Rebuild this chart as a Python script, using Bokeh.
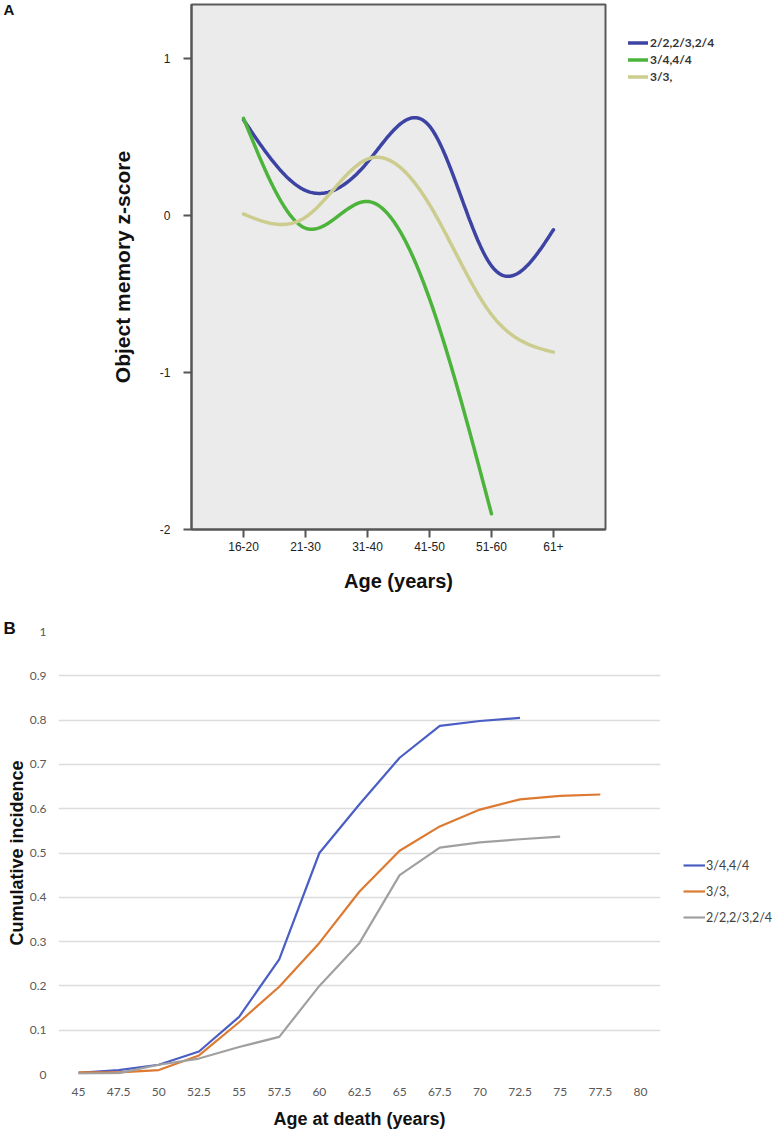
import numpy as np
from bokeh.plotting import figure
from bokeh.models import Range1d, FixedTicker, Legend, LegendItem, Title, ColumnDataSource
from bokeh.embed import file_html
from bokeh.resources import INLINE

# ---------------- Data: panel A (object memory z-score by age group) ----------------
AGE_GROUPS = ["16-20", "21-30", "31-40", "41-50", "51-60", "61+"]
A_Y_TICKS = [-2, -1, 0, 1]
A_Y_LABELS = ["-2", "-1", "0", "1"]
A_NAMES = ["2/2,2/3,2/4", "3/4,4/4", "3/3,"]
A_E2 = [0.61, 0.16, 0.34, 0.57, -0.32, -0.09]       # 2/2,2/3,2/4
A_E4 = [0.62, -0.08, 0.09, -0.53, -1.90]            # 3/4,4/4
A_E3 = [0.01, -0.01, 0.36, 0.07, -0.63, -0.87]      # 3/3,

# ---------------- Data: panel B (cumulative incidence by age at death) ----------------
B_AGES = [45, 47.5, 50, 52.5, 55, 57.5, 60, 62.5, 65, 67.5, 70, 72.5, 75, 77.5, 80]
B_AGE_LABELS = ["45", "47.5", "50", "52.5", "55", "57.5", "60", "62.5", "65",
                "67.5", "70", "72.5", "75", "77.5", "80"]
B_Y_TICKS = [0, 0.1, 0.2, 0.3, 0.4, 0.5, 0.6, 0.7, 0.8, 0.9, 1.0]
B_Y_LABELS = ["0", "0.1", "0.2", "0.3", "0.4", "0.5", "0.6", "0.7", "0.8", "0.9", "1"]
B_NAMES = ["3/4,4/4", "3/3,", "2/2,2/3,2/4"]
B_E4 = [0.004, 0.010, 0.022, 0.052, 0.130, 0.260, 0.500, 0.610, 0.715, 0.787, 0.798, 0.805]
B_E3 = [0.005, 0.005, 0.010, 0.043, 0.118, 0.198, 0.297, 0.413, 0.505, 0.560, 0.598, 0.621, 0.629, 0.632]
B_E2 = [0.002, 0.003, 0.022, 0.036, 0.062, 0.085, 0.200, 0.297, 0.450, 0.512, 0.524, 0.531, 0.537]


def natural_spline(ys, n=300):
    """Render a smooth natural cubic spline through the points (0..k-1, ys)."""
    ys = np.asarray(ys, dtype=float)
    k = len(ys)
    A = np.zeros((k, k))
    r = np.zeros(k)
    A[0, 0] = 1.0
    A[-1, -1] = 1.0
    for i in range(1, k - 1):
        A[i, i - 1] = 1.0
        A[i, i] = 4.0
        A[i, i + 1] = 1.0
        r[i] = 6.0 * (ys[i + 1] - 2 * ys[i] + ys[i - 1])
    M = np.linalg.solve(A, r)
    t = np.linspace(0, k - 1, n)
    out = np.empty_like(t)
    for j, x in enumerate(t):
        i = min(int(np.floor(x)), k - 2)
        a = x - i
        b = 1 - a
        out[j] = (b * ys[i] + a * ys[i + 1]
                  + ((b ** 3 - b) * M[i] + (a ** 3 - a) * M[i + 1]) / 6.0)
    return t, out


# ======================= Panel A =======================
FH_A = 525
pa = figure(frame_width=414, frame_height=FH_A, output_backend="svg", toolbar_location=None,
            x_range=Range1d(-0.84, 5.84), y_range=Range1d(-2, 1.345),
            min_border_left=191, min_border_right=165, min_border_top=4, min_border_bottom=74)
pa.background_fill_color = "#ebebeb"
pa.border_fill_color = "white"
pa.outline_line_color = "#5a5a5a"
pa.outline_line_width = 2
pa.xgrid.visible = False
pa.ygrid.visible = False

colors_a = ["#3c43a3", "#4cb33b", "#cccc8e"]
renderers_a = []
for ys, c in zip([A_E2, A_E4, A_E3], colors_a):
    t, s = natural_spline(ys)
    r = pa.line(t, s, line_color=c, line_width=3.5, line_cap="round")
    renderers_a.append(r)

for ax in (pa.xaxis[0], pa.yaxis[0]):
    ax.axis_line_color = "#555555"
    ax.axis_line_width = 2
    ax.major_tick_line_color = "#555555"
    ax.major_tick_line_width = 2
    ax.major_tick_out = 8
    ax.major_tick_in = 0
    ax.minor_tick_line_color = None
    ax.major_label_text_font = "Liberation Sans"
    ax.major_label_text_font_size = "12px"
    ax.major_label_text_color = "#222222"
    ax.axis_label_text_font = "Liberation Sans"
    ax.axis_label_text_font_style = "bold"
    ax.axis_label_text_color = "#111111"

pa.xaxis.ticker = FixedTicker(ticks=list(range(len(AGE_GROUPS))))
pa.xaxis.major_label_overrides = {i: lab for i, lab in enumerate(AGE_GROUPS)}
pa.xaxis.major_label_standoff = 4
pa.xaxis.axis_label = "Age (years)"
pa.xaxis.axis_label_text_font_size = "20px"
pa.xaxis.axis_label_standoff = 16

pa.yaxis.ticker = FixedTicker(ticks=A_Y_TICKS)
pa.yaxis.major_label_overrides = {t: lab for t, lab in zip(A_Y_TICKS, A_Y_LABELS)}
pa.yaxis.major_label_standoff = 13
pa.yaxis.axis_label = "Object memory z-score"
pa.yaxis.axis_label_text_font_size = "21px"
pa.yaxis.axis_label_standoff = 23

leg_a = Legend(items=[LegendItem(label=n, renderers=[r]) for n, r in zip(A_NAMES, renderers_a)],
               location=(23, FH_A - 30 - 51), orientation="vertical")
leg_a.glyph_width = 20
leg_a.glyph_height = 17
leg_a.label_height = 17
leg_a.label_standoff = 2
leg_a.spacing = 0
leg_a.padding = 0
leg_a.margin = 0
leg_a.border_line_color = None
leg_a.background_fill_alpha = 0
leg_a.label_text_font = "Lato"
leg_a.label_text_font_style = "bold"
leg_a.label_text_font_size = "12px"
leg_a.label_text_color = "#333333"
pa.add_layout(leg_a, "right")

pa.add_layout(Title(text="A", align="left", offset=-188, standoff=-26,
                    text_font="Liberation Sans", text_font_style="bold",
                    text_font_size="15px", text_color="#111111"), "above")

# ======================= Panel B =======================
FH_B = 443
pb = figure(frame_width=602, frame_height=FH_B, output_backend="svg", toolbar_location=None,
            x_range=Range1d(43.75, 81.25), y_range=Range1d(0, 1),
            min_border_left=58, min_border_right=110, min_border_top=28, min_border_bottom=53)
pb.background_fill_color = "white"
pb.border_fill_color = "white"
pb.outline_line_color = None
pb.xgrid.visible = False
pb.ygrid.grid_line_color = "#dcdcdc"
pb.ygrid.grid_line_width = 1.5
pb.ygrid.ticker = FixedTicker(ticks=B_Y_TICKS)

colors_b = ["#4a5ec4", "#dd7a31", "#a0a0a0"]
renderers_b = []
for ys, c in zip([B_E4, B_E3, B_E2], colors_b):
    src = ColumnDataSource(dict(x=B_AGES[:len(ys)], y=ys))
    r = pb.line("x", "y", source=src, line_color=c, line_width=2.2, line_join="round")
    renderers_b.append(r)

for ax in (pb.xaxis[0], pb.yaxis[0]):
    ax.axis_line_color = None
    ax.major_tick_line_color = None
    ax.minor_tick_line_color = None
    ax.major_tick_out = 0
    ax.major_tick_in = 0
    ax.minor_tick_out = 0
    ax.minor_tick_in = 0
    ax.major_label_text_font = "Lato"
    ax.major_label_text_font_size = "12px"
    ax.major_label_text_color = "#595959"
    ax.axis_label_text_font = "Liberation Sans"
    ax.axis_label_text_font_style = "bold"
    ax.axis_label_text_font_size = "18px"
    ax.axis_label_text_color = "#111111"

pb.xaxis.ticker = FixedTicker(ticks=B_AGES)
pb.xaxis.major_label_overrides = {a: lab for a, lab in zip(B_AGES, B_AGE_LABELS)}
pb.xaxis.major_label_standoff = 13
pb.xaxis.axis_label = "Age at death (years)"
pb.xaxis.axis_label_standoff = 10

pb.yaxis.ticker = FixedTicker(ticks=B_Y_TICKS)
pb.yaxis.major_label_overrides = {t: lab for t, lab in zip(B_Y_TICKS, B_Y_LABELS)}
pb.yaxis.major_label_standoff = 12
pb.yaxis.axis_label = "Cumulative incidence"
pb.yaxis.axis_label_standoff = 0

leg_b = Legend(items=[LegendItem(label=n, renderers=[r]) for n, r in zip(B_NAMES, renderers_b)],
               location=(23, FH_B - 221 - 78), orientation="vertical")
leg_b.glyph_width = 22
leg_b.glyph_height = 26
leg_b.label_height = 26
leg_b.label_standoff = 1
leg_b.spacing = 0
leg_b.padding = 0
leg_b.margin = 0
leg_b.border_line_color = None
leg_b.background_fill_alpha = 0
leg_b.label_text_font = "Lato"
leg_b.label_text_font_size = "12.5px"
leg_b.label_text_color = "#404040"
pb.add_layout(leg_b, "right")

pb.add_layout(Title(text="B", align="left", offset=-55, standoff=-12,
                    text_font="Liberation Sans", text_font_style="bold",
                    text_font_size="17px", text_color="#111111"), "above")

open("out.html", "w").write(file_html([pa, pb], INLINE))
